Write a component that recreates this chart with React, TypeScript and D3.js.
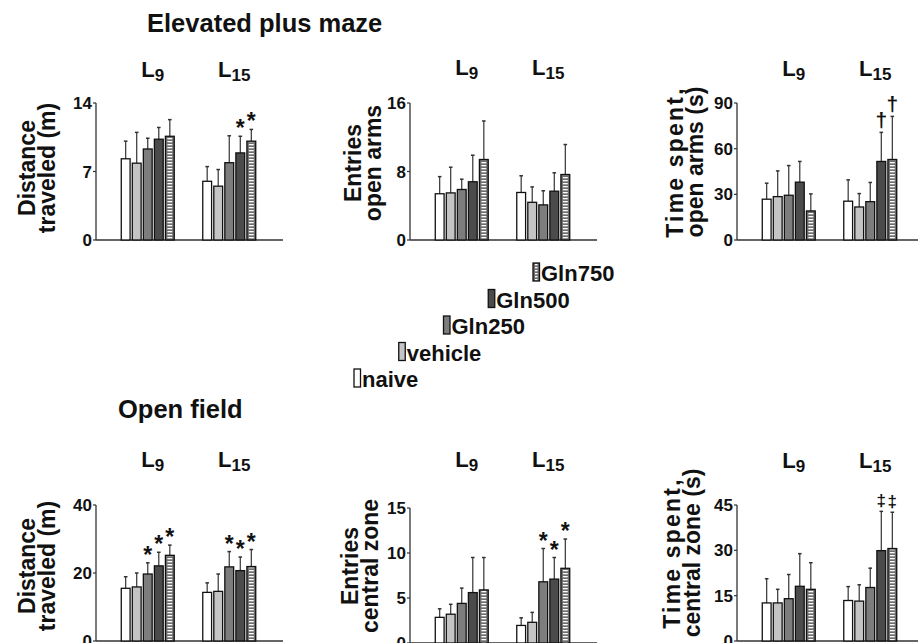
import * as d3 from 'd3';

const categories = ['naive', 'vehicle', 'Gln250', 'Gln500', 'Gln750'];
const groups = ['9', '15'];

// Elevated plus maze: distance traveled (m)
const epmDistL9 = [8.3, 7.85, 9.3, 10.3, 10.6];
const epmDistL9Err = [1.8, 3.15, 1.1, 1.2, 1.7];
const epmDistL15 = [6.0, 5.5, 7.9, 8.9, 10.1];
const epmDistL15Err = [1.5, 1.7, 2.75, 1.7, 1.2];
const epmDistTicks = [0, 7, 14];

// Elevated plus maze: entries open arms
const epmEntL9 = [5.4, 5.5, 5.9, 6.8, 9.4];
const epmEntL9Err = [2.0, 3.0, 1.2, 3.1, 4.5];
const epmEntL15 = [5.55, 4.4, 4.1, 5.7, 7.65];
const epmEntL15Err = [1.95, 1.8, 1.65, 2.15, 3.5];
const epmEntTicks = [0, 8, 16];

// Elevated plus maze: time spent open arms (s)
const epmTimeL9 = [26.8, 28.5, 29.4, 38.0, 19.1];
const epmTimeL9Err = [10.5, 16.9, 19.5, 13.6, 11.2];
const epmTimeL15 = [25.5, 21.7, 25.2, 51.6, 52.9];
const epmTimeL15Err = [14.0, 8.8, 12.6, 19.1, 28.3];
const epmTimeTicks = [0, 30, 60, 90];

// Open field: distance traveled (m)
const ofDistL9 = [15.5, 15.9, 19.7, 22.1, 25.2];
const ofDistL9Err = [3.4, 4.1, 3.3, 4.0, 3.0];
const ofDistL15 = [14.3, 14.6, 21.8, 20.7, 21.9];
const ofDistL15Err = [2.8, 5.1, 4.5, 4.0, 5.0];
const ofDistTicks = [0, 20, 40];

// Open field: entries central zone
const ofEntL9 = [2.85, 3.2, 4.4, 5.6, 5.9];
const ofEntL9Err = [0.95, 1.1, 1.7, 3.9, 3.6];
const ofEntL15 = [1.95, 2.3, 6.8, 7.1, 8.3];
const ofEntL15Err = [0.85, 1.1, 3.7, 2.4, 3.25];
const ofEntTicks = [0, 5, 10, 15];

// Open field: time spent central zone (s)
const ofTimeL9 = [12.6, 12.6, 14.0, 18.1, 17.1];
const ofTimeL9Err = [8.0, 4.5, 8.0, 10.8, 8.8];
const ofTimeL15 = [13.4, 13.2, 17.7, 29.9, 30.6];
const ofTimeL15Err = [4.6, 5.4, 6.4, 13.0, 12.0];
const ofTimeTicks = [0, 15, 30, 45];

// significance marks per bar
const none = ['', '', '', '', ''];
const epmDistMarksL15 = ['', '', '', '*', '*'];
const epmTimeMarksL15 = ['', '', '', '†', '†'];
const ofDistMarks = ['', '', '*', '*', '*'];
const ofEntMarksL15 = ['', '', '*', '*', '*'];
const ofTimeMarksL15 = ['', '', '', '‡', '‡'];

const FONT = "'Liberation Sans', Arial, Helvetica, sans-serif";
const fills = ['#ffffff', '#c4c4c4', '#7d7d7d', '#4b4b4b', '#6e6e6e'];

const panels = [
  { means: [epmDistL9, epmDistL15], errs: [epmDistL9Err, epmDistL15Err], marks: [none, epmDistMarksL15], ticks: epmDistTicks,
    label: ['Distance', 'traveled (m)'], axisX: 96, yTop: 103, yBase: 240, labelX: 35, labelY: 168, groupY: 77, markSize: 23, spacing: 0 },
  { means: [epmEntL9, epmEntL15], errs: [epmEntL9Err, epmEntL15Err], marks: [none, none], ticks: epmEntTicks,
    label: ['Entries', 'open arms'], axisX: 410, yTop: 103, yBase: 240, labelX: 361, labelY: 163, groupY: 75, markSize: 23, spacing: 0 },
  { means: [epmTimeL9, epmTimeL15], errs: [epmTimeL9Err, epmTimeL15Err], marks: [none, epmTimeMarksL15], ticks: epmTimeTicks,
    label: ['Time spent,', 'open arms (s)'], axisX: 737, yTop: 103, yBase: 240, labelX: 683, labelY: 162, groupY: 76, markSize: 21, spacing: 2.2 },
  { means: [ofDistL9, ofDistL15], errs: [ofDistL9Err, ofDistL15Err], marks: [ofDistMarks, ofDistMarks], ticks: ofDistTicks,
    label: ['Distance', 'traveled (m)'], axisX: 96, yTop: 505, yBase: 641, labelX: 35, labelY: 566, groupY: 467, markSize: 23, spacing: 0 },
  { means: [ofEntL9, ofEntL15], errs: [ofEntL9Err, ofEntL15Err], marks: [none, ofEntMarksL15], ticks: ofEntTicks,
    label: ['Entries', 'central zone'], axisX: 410, yTop: 508, yBase: 643, labelX: 358, labelY: 566, groupY: 467, markSize: 23, spacing: 0 },
  { means: [ofTimeL9, ofTimeL15], errs: [ofTimeL9Err, ofTimeL15Err], marks: [none, ofTimeMarksL15], ticks: ofTimeTicks,
    label: ['Time spent,', 'central zone (s)'], axisX: 737, yTop: 505, yBase: 641, labelX: 680, labelY: 553, groupY: 468, markSize: 17, spacing: 2.2 },
];

function Bar({ x, y, w, h, i }: { x: number; y: number; w: number; h: number; i: number }) {
  if (i === 4) {
    return (
      <g>
        <rect x={x} y={y} width={w} height={h} fill={fills[4]} />
        <rect x={x + 2} y={y + 1} width={Math.max(0, w - 4)} height={Math.max(0, h - 1)} fill="url(#stripes)" />
        <rect x={x} y={y} width={w} height={h} fill="none" stroke="#111" strokeWidth={1.3} />
      </g>
    );
  }
  return <rect x={x} y={y} width={w} height={h} fill={fills[i]} stroke="#111" strokeWidth={1.3} />;
}

function Panel({ cfg }: { cfg: (typeof panels)[number] }) {
  const max = cfg.ticks[cfg.ticks.length - 1];
  const y = d3.scaleLinear().domain([0, max]).range([cfg.yBase, cfg.yTop]);
  const x0 = d3.scaleBand().domain(groups).range([cfg.axisX, cfg.axisX + 185]).paddingInner(0.35).paddingOuter(0.31);
  const x1 = d3.scaleBand().domain(categories).range([0, x0.bandwidth()]).paddingInner(0.2);
  const bw = x1.bandwidth();
  return (
    <g fontFamily={FONT} fontWeight="bold">
      <line x1={cfg.axisX} x2={cfg.axisX} y1={y(0)} y2={y(max)} stroke="#333" strokeWidth={1.3} />
      <line x1={cfg.axisX} x2={cfg.axisX + 187} y1={y(0)} y2={y(0)} stroke="#333" strokeWidth={1.5} />
      {cfg.ticks.map((t) => (
        <g key={t}>
          <line x1={cfg.axisX - 3} x2={cfg.axisX} y1={y(t)} y2={y(t)} stroke="#333" strokeWidth={1.2} />
          <text x={cfg.axisX - 4} y={y(t)} dy="0.36em" textAnchor="end" fontSize={17} fill="#111">{t}</text>
        </g>
      ))}
      <g transform={`translate(${cfg.labelX},${cfg.labelY}) rotate(-90)`}>
        <text x={0} y={0} textAnchor="middle" fontSize={23} letterSpacing={cfg.spacing} fill="#111">{cfg.label[0]}</text>
        <text x={0} y={20} textAnchor="middle" fontSize={23} fill="#111">{cfg.label[1]}</text>
      </g>
      {groups.map((g, gi) => {
        const gx = x0(g) as number;
        return (
          <g key={g}>
            <text x={gx + x0.bandwidth() / 2 + 5} y={cfg.groupY} textAnchor="middle" fontSize={22} fill="#111">
              L<tspan fontSize={17} dy={4}>{g}</tspan>
            </text>
            {categories.map((c, ci) => {
              const v = cfg.means[gi][ci];
              const e = cfg.errs[gi][ci];
              const bx = gx + (x1(c) as number);
              const cx = bx + bw / 2;
              const top = y(v + e);
              const mark = cfg.marks[gi][ci];
              return (
                <g key={c}>
                  <line x1={cx} x2={cx} y1={y(v)} y2={top} stroke="#333" strokeWidth={1.2} />
                  <line x1={cx - 1.8} x2={cx + 1.8} y1={top} y2={top} stroke="#333" strokeWidth={1.5} />
                  <Bar x={bx} y={y(v)} w={bw} h={y(0) - y(v)} i={ci} />
                  {mark && (
                    <text x={cx} y={top - (mark === '*' ? 0 : 5)} textAnchor="middle" fontSize={cfg.markSize} fill="#111">{mark}</text>
                  )}
                </g>
              );
            })}
          </g>
        );
      })}
    </g>
  );
}

export default function App() {
  const legendX = d3.scaleLinear().domain([0, 4]).range([354, 533]);
  const legendY = d3.scaleLinear().domain([0, 4]).range([387, 281]);
  return (
    <svg width={918} height={643} style={{ position: 'absolute', left: 0, top: 0, background: '#fff' }}>
      <defs>
        <pattern id="stripes" patternUnits="userSpaceOnUse" width={10} height={3}>
          <rect x={0} y={0} width={10} height={3} fill={fills[4]} />
          <rect x={0} y={0} width={10} height={1.3} fill="#ffffff" />
        </pattern>
      </defs>
      <rect x={0} y={0} width={918} height={643} fill="#fff" />
      <text x={147} y={32} fontFamily={FONT} fontWeight="bold" fontSize={25.5} fill="#111">Elevated plus maze</text>
      <text x={118} y={418} fontFamily={FONT} fontWeight="bold" fontSize={25.5} fill="#111">Open field</text>
      {panels.map((p, i) => (
        <Panel key={i} cfg={p} />
      ))}
      {categories.map((c, i) => (
        <g key={c} fontFamily={FONT} fontWeight="bold">
          <Bar x={legendX(i)} y={legendY(i) - 18} w={6.5} h={18} i={i} />
          <text x={legendX(i) + 8} y={legendY(i)} fontSize={22} fill="#111">{c}</text>
        </g>
      ))}
    </svg>
  );
}
